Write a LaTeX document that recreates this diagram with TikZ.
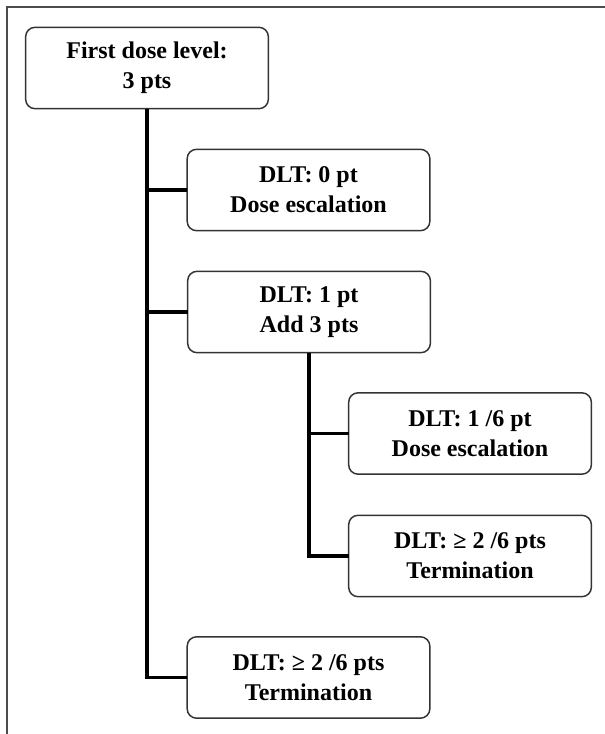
\documentclass[tikz,border=0pt]{standalone}
\usepackage{amsmath}
\usepackage{amssymb}
\usepackage{fontspec}
\setmainfont{Liberation Serif}
\usepackage{tikz}
\usetikzlibrary{shapes}

\tikzset{
  dosebox/.style={draw=black!80, line width=1.1pt, rounded corners=7pt, fill=white,
    minimum width=182pt, minimum height=61pt, inner sep=0pt, outer sep=0pt,
    align=center, font=\bfseries\fontsize{18}{22.5}\selectfont},
  branch/.style={draw=black, line width=2.4pt, line join=miter}
}

\begin{document}
\begin{tikzpicture}[x=0.75pt,y=0.75pt,yscale=-1,xscale=1]
\useasboundingbox (0,0) rectangle (605,734);
%Frame
\draw[black!70, line width=1.5pt] (7,734) -- (7,7) -- (605,7);
%Rounded Rect: first level
\node[dosebox] (first) at (147,68) {First dose level:\\3 pts};
%Rounded Rect: no DLT
\node[dosebox] (zero) at (308.5,190) {DLT: 0 pt\\Dose escalation};
%Rounded Rect: one DLT
\node[dosebox] (one) at (309,312) {DLT: 1 pt\\Add 3 pts};
%Rounded Rect: one of six
\node[dosebox] (onesix) at (470,433.5) {DLT: 1 /6 pt\\Dose escalation};
%Rounded Rect: two of six, second level
\node[dosebox] (twosix) at (470,556) {DLT: ≥ 2 /6 pts\\Termination};
%Rounded Rect: two of six, first level
\node[dosebox] (stop) at (308.5,677.5) {DLT: ≥ 2 /6 pts\\Termination};
%Connectors
\draw[branch] (first.south) -- (first.south |- stop.west) -- (stop.west);
\draw[branch] (first.south |- zero.west) -- (zero.west);
\draw[branch] (first.south |- one.west) -- (one.west);
\draw[branch] (one.south) -- (one.south |- twosix.west) -- (twosix.west);
\draw[branch] (one.south |- onesix.west) -- (onesix.west);
\end{tikzpicture}
\end{document}
